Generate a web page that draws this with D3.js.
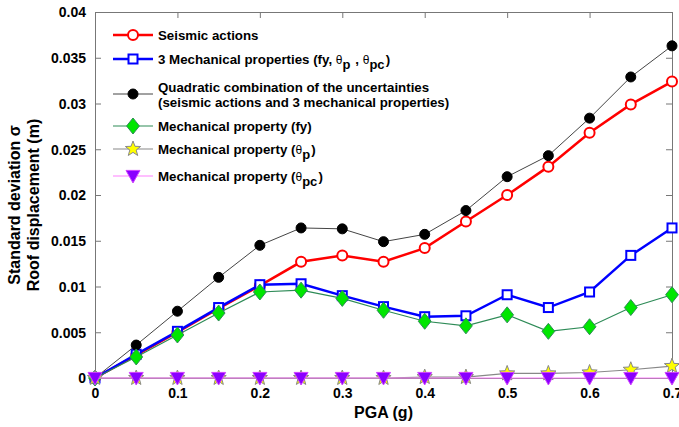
<!DOCTYPE html>
<html>
<head>
<meta charset="utf-8">
<script src="https://cdn.jsdelivr.net/npm/d3@7"></script>
<style>
  body { margin: 0; background: #fff; }
  text { font-family: "Liberation Sans", Arial, sans-serif; font-weight: bold; fill: #000; }
</style>
</head>
<body>
<div id="chart"></div>
<script>
// PGA values (g)
var pga = [0, 0.05, 0.1, 0.15, 0.2, 0.25, 0.3, 0.35, 0.4, 0.45, 0.5, 0.55, 0.6, 0.65, 0.7];

// standard deviation of roof displacement (m)
var seismic   = [0, 0.0025, 0.0050, 0.0076, 0.0101, 0.0127, 0.0134, 0.0127, 0.0142, 0.0171, 0.0200, 0.0231, 0.0268, 0.0299, 0.0324];
var mech3     = [0, 0.0026, 0.0051, 0.0077, 0.0102, 0.0103, 0.0090, 0.0078, 0.0067, 0.0068, 0.0091, 0.0077, 0.0094, 0.0134, 0.0164];
var quadratic = [0, 0.0036, 0.0073, 0.0110, 0.0145, 0.0164, 0.0163, 0.0149, 0.0157, 0.0183, 0.0220, 0.0243, 0.0284, 0.0329, 0.0363];
var propFy    = [0, 0.0023, 0.0047, 0.0071, 0.0094, 0.0096, 0.0087, 0.0074, 0.0062, 0.0057, 0.0069, 0.0051, 0.0056, 0.0077, 0.0091];
var propTp    = [0, 0, 0, 0, 0, 0, 0, 0, 0.0001, 0.0001, 0.0005, 0.0005, 0.0006, 0.0009, 0.0013];
var propTpc   = [0, 0, 0, 0, 0, 0, 0, 0, 0, 0, 0, 0, 0, 0, 0];

var xTicks = [0, 0.1, 0.2, 0.3, 0.4, 0.5, 0.6, 0.7];
var yTicks = [0, 0.005, 0.01, 0.015, 0.02, 0.025, 0.03, 0.035, 0.04];

var svgWidth = 679, svgHeight = 427;
var margin = {top: 12, right: 7, bottom: 49, left: 95};
var width = svgWidth - margin.left - margin.right;
var height = svgHeight - margin.top - margin.bottom;

var svg = d3.select("#chart").append("svg")
    .attr("width", svgWidth)
    .attr("height", svgHeight);

var chartGroup = svg.append("g")
    .attr("transform", `translate(${margin.left}, ${margin.top})`);

var xScale = d3.scaleLinear().domain([0, 0.7]).range([0, width]);
var yScale = d3.scaleLinear().domain([0, 0.04]).range([height, 0]);

// axes (MATLAB style, ticks pointing inward, box on)
var fmt = d => d === 0 ? "0" : String(+d.toFixed(3));

var xAxis = chartGroup.append("g")
    .attr("transform", `translate(0, ${height})`)
    .call(d3.axisBottom(xScale).tickValues(xTicks).tickFormat(fmt).tickSizeInner(-6).tickSizeOuter(0).tickPadding(10));
var yAxis = chartGroup.append("g")
    .call(d3.axisLeft(yScale).tickValues(yTicks).tickFormat(fmt).tickSizeInner(-6).tickSizeOuter(0).tickPadding(9));
var xTop = chartGroup.append("g")
    .call(d3.axisTop(xScale).tickValues(xTicks).tickFormat("").tickSizeInner(-6).tickSizeOuter(0));
var yRight = chartGroup.append("g")
    .attr("transform", `translate(${width}, 0)`)
    .call(d3.axisRight(yScale).tickValues(yTicks).tickFormat("").tickSizeInner(-6).tickSizeOuter(0));

[xAxis, yAxis, xTop, yRight].forEach(function(a) {
    a.select(".domain").attr("stroke", "#777").attr("stroke-width", 1);
    a.selectAll(".tick line").attr("stroke", "#777");
    a.selectAll("text").style("font-size", "14px").style("font-family", "Liberation Sans, Arial, sans-serif").style("font-weight", "bold").attr("fill", "#000");
});
yAxis.selectAll("text").attr("dy", "0.35em");

// axis titles
svg.append("text")
    .attr("x", margin.left + width / 2)
    .attr("y", 418)
    .attr("text-anchor", "middle")
    .style("font-size", "16px")
    .text("PGA (g)");

var yLabel = svg.append("text")
    .attr("transform", `translate(20, ${margin.top + height / 2 + 10}) rotate(-90)`)
    .attr("text-anchor", "middle")
    .style("font-size", "16px");
yLabel.append("tspan").attr("x", 0).attr("dy", 0).text("Standard deviation \u03C3");
yLabel.append("tspan").attr("x", 0).attr("dy", 19).text("Roof displacement (m)");

// series definitions
var series = [
    {values: seismic,   line: "#ff0000", lw: 2.5, marker: "circle",   fill: "#fff",    stroke: "#ff0000", size: 5, sw: 2},
    {values: mech3,     line: "#0000ff", lw: 2.5, marker: "square",   fill: "#fff",    stroke: "#0000ff", size: 9, sw: 2},
    {values: quadratic, line: "#444",    lw: 1,   marker: "dot",      fill: "#000",    stroke: "#000",    size: 5, sw: 1},
    {values: propFy,    line: "#2e8b57", lw: 1.2, marker: "diamond",  fill: "#00e600", stroke: "#2e8b57", size: 8, sw: 1},
    {values: propTp,    line: "#888",    lw: 1.2, marker: "star",     fill: "#ffff00", stroke: "#888",    size: 8, sw: 1},
    {values: propTpc,   line: "#ff80ff", lw: 1.2, marker: "triangle", fill: "#8a00ff", stroke: "#d040ff", size: 7, sw: 1}
];

function drawMarker(g, s, cx, cy) {
    var r = s.size;
    var m;
    if (s.marker === "circle" || s.marker === "dot") {
        m = g.append("circle").attr("cx", cx).attr("cy", cy).attr("r", r);
    } else if (s.marker === "square") {
        m = g.append("rect").attr("x", cx - r / 2).attr("y", cy - r / 2).attr("width", r).attr("height", r);
    } else if (s.marker === "diamond") {
        m = g.append("path").attr("d", `M${cx},${cy - r}L${cx + r * 0.8},${cy}L${cx},${cy + r}L${cx - r * 0.8},${cy}Z`);
    } else if (s.marker === "star") {
        var pts = [];
        for (var k = 0; k < 10; k++) {
            var rr = k % 2 === 0 ? r : r * 0.42;
            var a = -Math.PI / 2 + k * Math.PI / 5;
            pts.push([cx + rr * Math.cos(a), cy + rr * Math.sin(a)]);
        }
        m = g.append("path").attr("d", "M" + pts.join("L") + "Z");
    } else {
        m = g.append("path").attr("d", `M${cx - r},${cy - r * 0.8}L${cx + r},${cy - r * 0.8}L${cx},${cy + r}Z`);
    }
    m.attr("fill", s.fill).attr("stroke", s.stroke).attr("stroke-width", s.sw);
}

var lineGen = d3.line()
    .x((d, i) => xScale(pga[i]))
    .y(d => yScale(d));

series.forEach(function(s) {
    var g = chartGroup.append("g");
    g.append("path")
        .datum(s.values)
        .attr("fill", "none")
        .attr("stroke", s.line)
        .attr("stroke-width", s.lw)
        .attr("d", lineGen);
    s.values.forEach(function(v, i) {
        drawMarker(g, s, xScale(pga[i]), yScale(v));
    });
});

// legend
var legendRows = [
    {y: 35,  texts: [["Seismic actions"]]},
    {y: 59,  texts: [["3 Mechanical properties (fy, ", ["\u03B8", "p"], " , ", ["\u03B8", "pc"], ")"]]},
    {y: 94,  texts: [["Quadratic combination of the uncertainties"], ["(seismic actions and 3 mechanical properties)"]]},
    {y: 126, texts: [["Mechanical property (fy)"]]},
    {y: 149, texts: [["Mechanical property (", ["\u03B8", "p"], ")"]]},
    {y: 176, texts: [["Mechanical property (", ["\u03B8", "pc"], ")"]]}
];

var legend = svg.append("g");
legendRows.forEach(function(row, idx) {
    var s = series[idx];
    legend.append("line")
        .attr("x1", 113).attr("x2", 153)
        .attr("y1", row.y).attr("y2", row.y)
        .attr("stroke", s.line)
        .attr("stroke-width", s.lw);
    drawMarker(legend, s, 133, row.y);
    var nLines = row.texts.length;
    row.texts.forEach(function(parts, li) {
        var t = legend.append("text")
            .attr("x", 158)
            .attr("y", row.y + 5 + (li - (nLines - 1) / 2) * 15)
            .style("font-size", "13.3px");
        parts.forEach(function(p) {
            if (typeof p === "string") {
                t.append("tspan").text(p);
            } else {
                t.append("tspan").style("font-weight", "normal").style("font-size", "12px").text(p[0]);
                t.append("tspan").attr("dy", 5).style("font-size", "13px").text(p[1]);
                t.append("tspan").attr("dy", -5).text("\u200A");
            }
        });
    });
});
</script>
</body>
</html>
